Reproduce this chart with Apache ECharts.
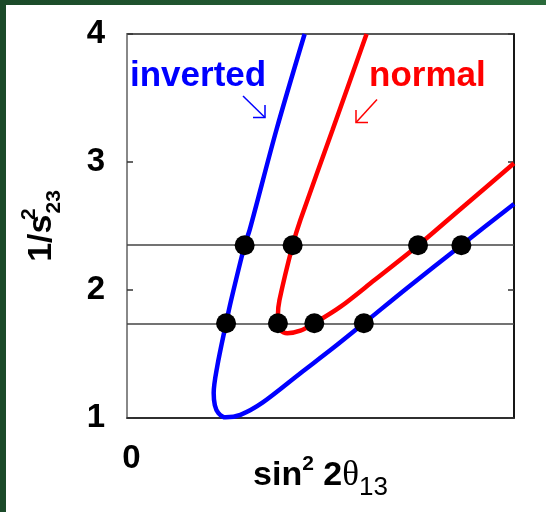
<!DOCTYPE html>
<html>
<head>
<meta charset="utf-8">
<script src="https://cdn.jsdelivr.net/npm/echarts@6/dist/echarts.min.js"></script>
<style>
  html, body { margin: 0; padding: 0; background: #ffffff; }
  #chart { width: 546px; height: 512px; }
</style>
</head>
<body>
<div id="chart"></div>
<script>
// Allowed region boundaries in the (sin^2 2theta13, 1/s23^2) plane
const invertedCurve = [
  [0.0459, 4.00], [0.0386, 3.25], [0.0317, 2.47], [0.0304, 2.35],
  [0.0269, 1.92], [0.0256, 1.74], [0.0233, 1.40], [0.0224, 1.195],
  [0.0227, 1.10], [0.0236, 1.04], [0.0255, 1.005], [0.0293, 1.025],
  [0.0350, 1.12], [0.0448, 1.35], [0.0534, 1.55], [0.0612, 1.74],
  [0.0724, 2.016], [0.0864, 2.35], [0.1000, 2.672]
];
const normalCurve = [
  [0.0619, 4.00], [0.0531, 3.25], [0.0448, 2.547], [0.0428, 2.35],
  [0.0394, 1.922], [0.0390, 1.805], [0.0390, 1.74], [0.0396, 1.688],
  [0.0414, 1.662], [0.0448, 1.682], [0.0484, 1.74], [0.0552, 1.87],
  [0.0638, 2.074], [0.0752, 2.348], [0.0862, 2.633], [0.1000, 2.99]
];

// Two values of 1/s23^2 (octant ambiguity) and where they cross each boundary
const levels = [2.35, 1.74];
const invertedCross = [[0.0304, 2.35], [0.0864, 2.35], [0.0256, 1.74], [0.0612, 1.74]];
const normalCross = [[0.0428, 2.35], [0.0752, 2.35], [0.0390, 1.74], [0.0484, 1.74]];

// Axis ranges and labels
const xRange = [0, 0.1];
const yRange = [1, 4];
const yTicks = ['1', '2', '3', '4'];
const xTickLabel = '0';
const seriesNames = ['inverted', 'normal'];

const FONT = '"Liberation Sans", Arial, sans-serif';
const BLUE = '#0000ff';
const RED = '#ff0000';

const chart = echarts.init(document.getElementById('chart'), null, { renderer: 'canvas' });

const option = {
  animation: false,
  backgroundColor: '#ffffff',
  grid: {
    left: 127, top: 34, width: 387, height: 384,
    outerBoundsMode: 'none', containLabel: false,
    show: true, borderColor: '#222', borderWidth: 1.5, backgroundColor: 'transparent'
  },
  xAxis: {
    type: 'value', min: xRange[0], max: xRange[1], interval: xRange[1] - xRange[0],
    axisLine: { show: true, lineStyle: { color: '#222', width: 1.5 } },
    axisTick: { show: false },
    splitLine: { show: false },
    axisLabel: {
      formatter: v => (v === xRange[0] ? xTickLabel : ''),
      fontFamily: FONT, fontSize: 33, fontWeight: 'bold', color: '#000',
      margin: 24, padding: [0, 0, 0, 9]
    },
    name: '{b|sin}{sup|2}{b| 2}{th|θ}{sub|13}',
    nameLocation: 'middle',
    nameGap: 29,
    nameMoveOverlap: false,
    nameTextStyle: {
      rich: {
        b: { fontFamily: FONT, fontSize: 34, fontWeight: 'bold', color: '#000', lineHeight: 58, verticalAlign: 'middle' },
        sup: { fontFamily: FONT, fontSize: 21, fontWeight: 'bold', color: '#000', lineHeight: 21, verticalAlign: 'top', padding: [7, 0, 0, 0] },
        th: { fontFamily: '"Liberation Serif", "DejaVu Serif", serif', fontSize: 35, color: '#000', lineHeight: 58, verticalAlign: 'middle' },
        sub: { fontFamily: FONT, fontSize: 26, color: '#000', lineHeight: 26, verticalAlign: 'bottom', padding: [0, 0, 4, 0] }
      }
    }
  },
  yAxis: [
    {
      type: 'value', min: yRange[0], max: yRange[1], interval: 1,
      axisLine: { show: true, lineStyle: { color: '#888', width: 2 } },
      axisTick: { show: true, inside: true, length: 6, lineStyle: { color: '#333', width: 1.5 } },
      splitLine: { show: false },
      axisLabel: {
        formatter: v => yTicks[Math.round(v - yRange[0])],
        fontFamily: FONT, fontSize: 33, fontWeight: 'bold', color: '#000', margin: 22
      },
      name: '{a|1/s}{sup|2}{sub|23}',
      nameLocation: 'middle',
      nameRotate: 90,
      nameGap: 62,
      nameMoveOverlap: false,
      nameTextStyle: {
        rich: {
          a: { fontFamily: FONT, fontSize: 34, fontWeight: 'bold', color: '#000', lineHeight: 46, verticalAlign: 'middle' },
          sup: { fontFamily: FONT, fontSize: 21, fontWeight: 'bold', color: '#000', lineHeight: 46, verticalAlign: 'top', width: 1 },
          sub: { fontFamily: FONT, fontSize: 21, fontWeight: 'bold', color: '#000', lineHeight: 46, verticalAlign: 'bottom' }
        }
      }
    },
    {
      type: 'value', min: yRange[0], max: yRange[1], interval: 1, position: 'right',
      axisLine: { show: true, lineStyle: { color: '#000', width: 1.5 } },
      axisTick: { show: true, inside: true, length: 6, lineStyle: { color: '#333', width: 1.5 } },
      axisLabel: { show: false },
      splitLine: { show: false }
    }
  ],
  series: [
    {
      name: 'levels', type: 'line', data: [], z: 1,
      markLine: {
        silent: true, symbol: ['none', 'none'],
        label: { show: false },
        lineStyle: { color: '#444', width: 1.5, type: 'solid' },
        data: levels.map(v => ({ yAxis: v }))
      }
    },
    {
      name: seriesNames[0], type: 'line', data: invertedCurve, z: 2,
      showSymbol: false, smooth: 0.3,
      lineStyle: { color: BLUE, width: 4.5 }
    },
    {
      name: seriesNames[1], type: 'line', data: normalCurve, z: 2,
      showSymbol: false, smooth: 0.3,
      lineStyle: { color: RED, width: 4.5 }
    },
    {
      name: seriesNames[0] + ' crossings', type: 'scatter', data: invertedCross, z: 5,
      symbol: 'circle', symbolSize: 20, itemStyle: { color: '#000', opacity: 1 }
    },
    {
      name: seriesNames[1] + ' crossings', type: 'scatter', data: normalCross, z: 5,
      symbol: 'circle', symbolSize: 20, itemStyle: { color: '#000', opacity: 1 }
    }
  ],
  graphic: [
    // dark green frame along the top and left edges
    {
      type: 'rect', left: 0, top: 0, z: 100, silent: true,
      shape: { width: 546, height: 5 },
      style: {
        fill: new echarts.graphic.LinearGradient(0, 0, 1, 0, [
          { offset: 0, color: '#1b4a29' }, { offset: 1, color: '#2a6a3b' }
        ])
      }
    },
    {
      type: 'rect', left: 0, top: 0, z: 100, silent: true,
      shape: { width: 6, height: 512 },
      style: { fill: '#1b4a29' }
    },
    // curve annotations
    {
      type: 'text', x: 130, y: 76, z: 50, silent: true,
      style: { text: seriesNames[0], font: 'bold 35px ' + FONT, fill: BLUE, verticalAlign: 'middle', align: 'left' }
    },
    {
      type: 'text', x: 369, y: 76, z: 50, silent: true,
      style: { text: seriesNames[1], font: 'bold 35px ' + FONT, fill: RED, verticalAlign: 'middle', align: 'left' }
    },
    {
      type: 'polyline', z: 50, silent: true,
      shape: { points: [[243, 96], [265, 117.5]] },
      style: { stroke: BLUE, lineWidth: 1.5, fill: null }
    },
    {
      type: 'polyline', z: 50, silent: true,
      shape: { points: [[265, 105], [265, 117.5], [253, 117.5]] },
      style: { stroke: BLUE, lineWidth: 1.5, fill: null }
    },
    {
      type: 'polyline', z: 50, silent: true,
      shape: { points: [[377, 99.5], [356, 122.5]] },
      style: { stroke: RED, lineWidth: 1.5, fill: null }
    },
    {
      type: 'polyline', z: 50, silent: true,
      shape: { points: [[356, 110], [356, 122.5], [368, 122.5]] },
      style: { stroke: RED, lineWidth: 1.5, fill: null }
    }
  ]
};

chart.setOption(option);
</script>
</body>
</html>
